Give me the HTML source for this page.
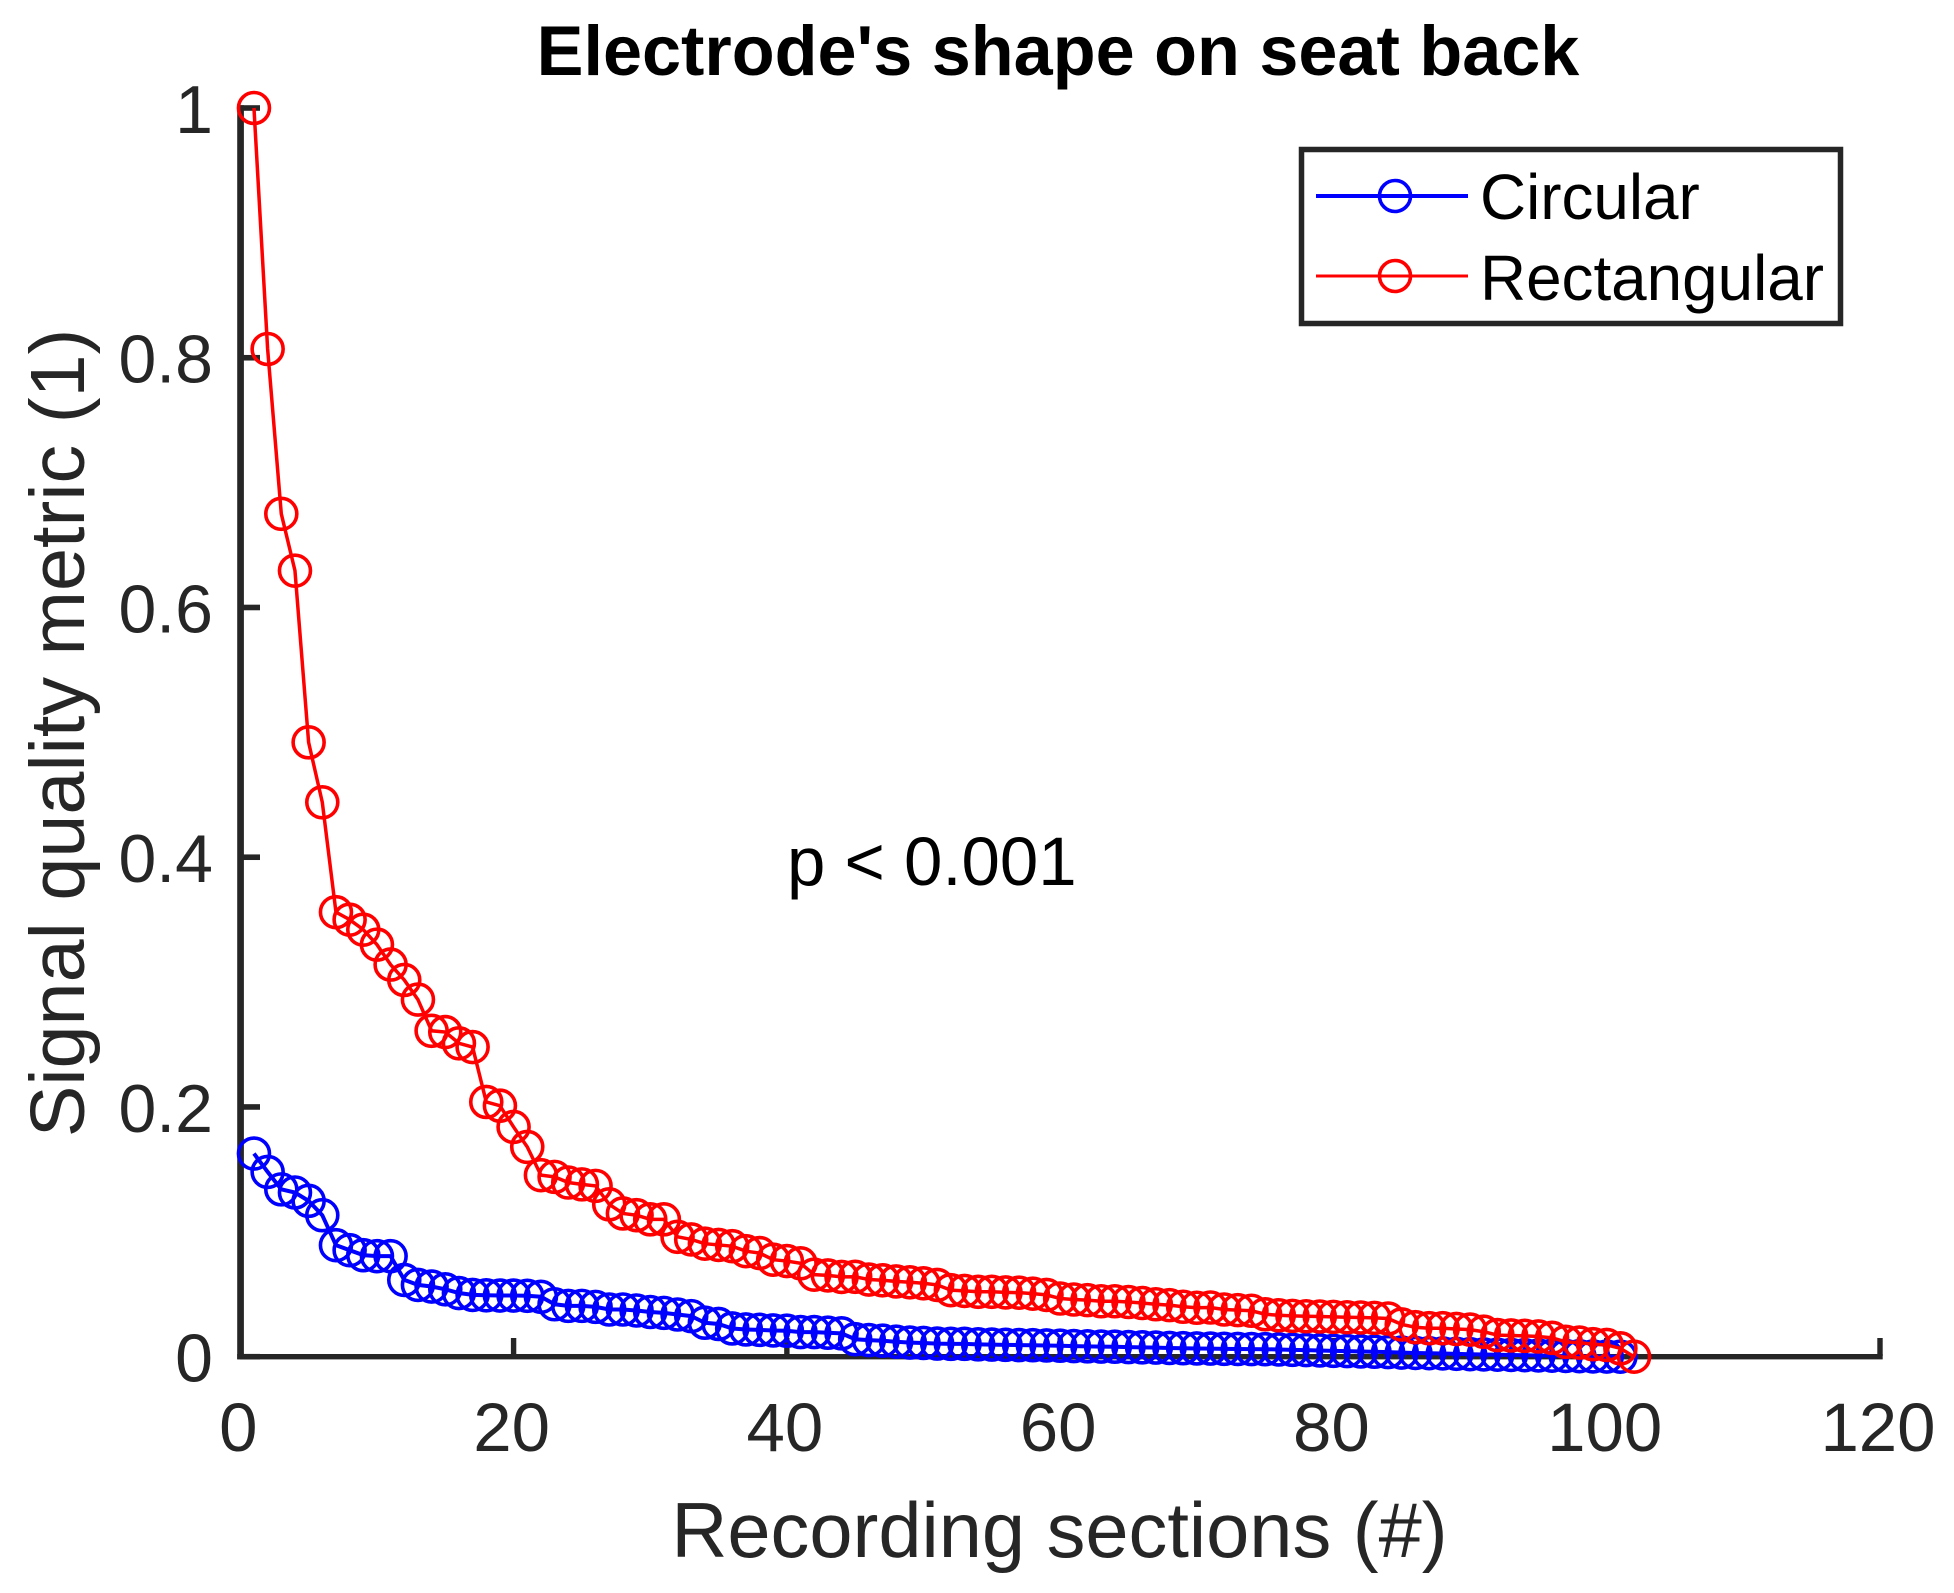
<!DOCTYPE html>
<html lang="en">
<head>
<meta charset="utf-8">
<title>Electrode's shape on seat back</title>
<style>
html,body{margin:0;padding:0;background:#fff;width:1954px;height:1593px;overflow:hidden}
svg{display:block}
text{font-family:"Liberation Sans",Arial,sans-serif}
</style>
</head>
<body>
<svg id="chart" xmlns="http://www.w3.org/2000/svg" width="1954" height="1593" viewBox="0 0 1954 1593">
<rect x="0" y="0" width="1954" height="1593" fill="#fff"/>
<text x="1058" y="75" font-size="70.2" font-weight="bold" text-anchor="middle" fill="#000">Electrode's shape on seat back</text>
<g id="axes"></g>
<g id="series"></g>
<text x="1059.5" y="1557" font-size="77.6" text-anchor="middle" fill="#262626">Recording sections (#)</text>
<text transform="translate(84 733) rotate(-90)" font-size="77.4" text-anchor="middle" fill="#262626">Signal quality metric (1)</text>
<text x="787" y="885" font-size="69" fill="#000">p &lt; 0.001</text>
<g>
<rect x="1301.5" y="149.5" width="539" height="174" fill="#fff" stroke="#262626" stroke-width="5.5"/>
<line x1="1316" y1="196" x2="1468" y2="196" stroke="#0000ff" stroke-width="4"/>
<circle cx="1395" cy="196" r="15.5" fill="none" stroke="#0000ff" stroke-width="3.6"/>
<text x="1480" y="219" font-size="63.8" fill="#000">Circular</text>
<line x1="1316" y1="276" x2="1468" y2="276" stroke="#ff0000" stroke-width="3"/>
<circle cx="1395" cy="276" r="15.5" fill="none" stroke="#ff0000" stroke-width="3.6"/>
<text x="1480" y="300" font-size="63.8" fill="#000">Rectangular</text>
</g>
</svg>
<script>
const xTicks = [0, 20, 40, 60, 80, 100, 120];
const yTicks = [0, 0.2, 0.4, 0.6, 0.8, 1];
const circularValues = [
0.1627,0.148,0.134,0.1315,0.1248,0.1133,0.0893,0.0853,0.0813,0.0805,
0.0805,0.0615,0.0575,0.0562,0.054,0.051,0.0495,0.0492,0.049,0.049,
0.0488,0.048,0.042,0.0407,0.0407,0.0399,0.0378,0.0378,0.037,0.0358,
0.0351,0.0338,0.0325,0.0272,0.0262,0.0226,0.0218,0.0215,0.021,0.0208,
0.0197,0.0197,0.0192,0.0187,0.014,0.0133,0.0128,0.012,0.0113,0.011,
0.0105,0.0103,0.0103,0.0099,0.0097,0.0095,0.0093,0.0092,0.009,0.0088,
0.0085,0.0083,0.0081,0.008,0.0077,0.0075,0.0073,0.007,0.0068,0.0066,
0.0065,0.0063,0.0062,0.0061,0.006,0.0058,0.0055,0.0053,0.005,0.0047,
0.0045,0.0042,0.004,0.0037,0.0033,0.003,0.0028,0.0026,0.0023,0.002,
0.0018,0.0016,0.0014,0.0012,0.001,0.0008,0.0006,0.0004,0.0002,0.0001,
0];
const rectangularValues = [
1,0.807,0.675,0.6295,0.492,0.444,0.356,0.35,0.342,0.33,
0.314,0.3017,0.286,0.261,0.26,0.251,0.248,0.204,0.201,0.184,
0.168,0.1454,0.144,0.1395,0.138,0.1368,0.122,0.1147,0.1133,0.11,
0.11,0.096,0.0939,0.0905,0.0895,0.0885,0.0845,0.083,0.0777,0.0766,
0.0748,0.0657,0.0651,0.0639,0.064,0.0618,0.0612,0.0603,0.0596,0.0588,
0.0575,0.0533,0.0527,0.052,0.052,0.0515,0.0513,0.0505,0.0495,0.0466,
0.0458,0.0453,0.0444,0.0444,0.0438,0.043,0.042,0.0413,0.04,0.0392,
0.0394,0.0378,0.0373,0.0368,0.034,0.0332,0.0327,0.0324,0.0322,0.0319,
0.0316,0.0314,0.0311,0.0306,0.0258,0.0236,0.0228,0.0228,0.0222,0.0217,
0.02,0.0173,0.017,0.0167,0.0162,0.0151,0.0119,0.0113,0.01,0.0094,
0.0067,0];

const NS = 'http://www.w3.org/2000/svg';
const xScale = v => 240.3 + v * (1880 - 240.3) / 120;
const yScale = v => 1356.7 - v * (1356.7 - 108);
const axesGroup = document.getElementById('axes');
const seriesGroup = document.getElementById('series');

function make(tag, attrs, parent) {
  const el = document.createElementNS(NS, tag);
  for (const k in attrs) el.setAttribute(k, attrs[k]);
  parent.appendChild(el);
  return el;
}

const yAxisLine = make('rect', {x: 237.2, y: 105.2, width: 6.7, height: 1254, fill: '#262626'}, axesGroup);


const xAxisLine = make('rect', {x: 237.2, y: 1354, width: 1645.5, height: 5.4, fill: '#262626'}, axesGroup);



xTicks.forEach(t => {
  const px = xScale(t);
  const tick = make('rect', {x: px - 2.7, y: 1338, width: 5.4, height: 18, fill: '#262626'}, axesGroup);
  
  
  const label = make('text', {x: px - 2, y: 1451, 'font-size': 69, 'text-anchor': 'middle', fill: '#262626'}, axesGroup);
  
  
  label.textContent = String(t);
});

yTicks.forEach(t => {
  const py = yScale(t);
  const tick = make('rect', {x: 240, y: py - 2.8, width: 20, height: 5.6, fill: '#262626'}, axesGroup);
  
  
  const label = make('text', {x: 213, y: py + 25, 'font-size': 68, 'text-anchor': 'end', fill: '#262626'}, axesGroup);
  
  
  label.textContent = String(t);
});

function drawCircular() {
  const g = make('g', {}, seriesGroup);
  
  
  const pts = circularValues.map((v, i) => xScale(i + 1).toFixed(2) + ',' + yScale(v).toFixed(2)).join(' ');
  const line = make('polyline', {points: pts, fill: 'none', stroke: '#0000ff', 'stroke-width': 4}, g);
  
  
  circularValues.forEach((v, i) => {
    const c = make('circle', {cx: xScale(i + 1), cy: yScale(v), r: 15.5, fill: 'none', stroke: '#0000ff', 'stroke-width': 3.6}, g);
    
    
  });
}

function drawRectangular() {
  const g = make('g', {}, seriesGroup);
  
  
  const pts = rectangularValues.map((v, i) => xScale(i + 1).toFixed(2) + ',' + yScale(v).toFixed(2)).join(' ');
  const line = make('polyline', {points: pts, fill: 'none', stroke: '#ff0000', 'stroke-width': 3.5}, g);
  
  
  rectangularValues.forEach((v, i) => {
    const c = make('circle', {cx: xScale(i + 1), cy: yScale(v), r: 15.5, fill: 'none', stroke: '#ff0000', 'stroke-width': 3.6}, g);
    
    
  });
}

drawCircular();
drawRectangular();
</script>
</body>
</html>
